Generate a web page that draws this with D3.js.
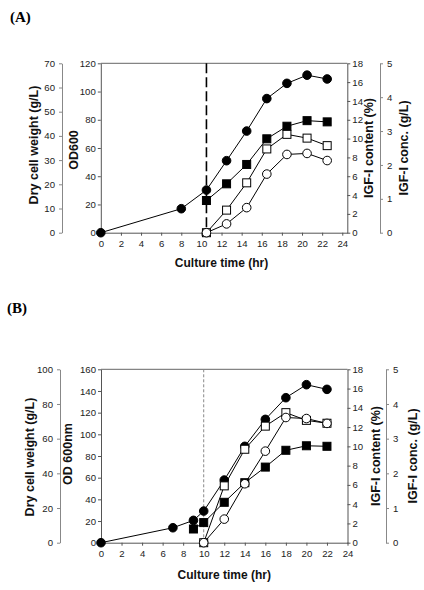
<!DOCTYPE html>
<html><head><meta charset="utf-8">
<script src="https://cdn.jsdelivr.net/npm/d3@7"></script>
<style>
body{margin:0;background:#fff;}
svg{display:block;font-family:"Liberation Sans",Arial,sans-serif;}
.tick text{font-size:9.6px;fill:#222;}
.ttl{font-size:12.5px;font-weight:bold;fill:#111;}
.pl{font-family:"Liberation Serif","Times New Roman",serif;font-size:15px;font-weight:bold;}
</style></head><body>
<script>
// ---------- Data: panel A ----------
const timeA_od = [0, 8, 10.5, 12.5, 14.5, 16.5, 18.5, 20.5, 22.5];
const odA      = [0, 17, 30.2, 51, 72, 95, 105.8, 111.6, 108.9];
const timeA_dcw = [10.5, 12.5, 14.5, 16.5, 18.5, 20.5, 22.5];
const dcwA      = [13.3, 20.2, 28.2, 38.8, 44.0, 46.3, 45.8];
const timeA_igf = [10.5, 12.5, 14.5, 16.5, 18.5, 20.5, 22.5];
const contentA  = [0, 2.4, 5.3, 8.9, 10.45, 10.05, 9.25];
const concA     = [0, 0.26, 0.74, 1.73, 2.31, 2.34, 2.13];
const inductionA = 10.5;

// ---------- Data: panel B ----------
const timeB_od = [0, 7, 9, 10, 12, 14, 16, 18, 20, 22];
const odB      = [0, 13.8, 20.6, 29.2, 57.8, 88.9, 113.8, 133.8, 145.8, 141.5];
const timeB_dcw = [9, 10, 12, 14, 16, 18, 20, 22];
const dcwB      = [7.9, 11.6, 23.3, 34.6, 43.6, 53.3, 55.9, 55.6];
const timeB_igf = [10, 12, 14, 16, 18, 20, 22];
const contentB  = [0, 5.9, 9.7, 12.1, 13.5, 12.7, 12.4];
const concB     = [0, 0.68, 1.70, 2.64, 3.61, 3.58, 3.44];
const inductionB = 10;

// ---------- Tick labels ----------
const xTicks = [0,2,4,6,8,10,12,14,16,18,20,22,24];
const dcwTicksA = [0,10,20,30,40,50,60,70];
const odTicksA = [0,20,40,60,80,100,120];
const dcwTicksB = [0,20,40,60,80,100];
const odTicksB = [0,20,40,60,80,100,120,140,160];
const contentTicks = [0,2,4,6,8,10,12,14,16,18];
const concTicks = [0,1,2,3,4,5];

const svg = d3.select("body").append("svg").attr("width",424).attr("height",590);
const fmt = d3.format("d");

function panel(cfg){
  const g = svg.append("g");
  const x = d3.scaleLinear().domain(cfg.xDomain).range([cfg.left, cfg.right]);
  const yOD = d3.scaleLinear().domain([0, cfg.odMax]).range([cfg.bottom, cfg.top]);
  const yDCW = d3.scaleLinear().domain([0, cfg.dcwMax]).range([cfg.bottom, cfg.top]);
  const yC = d3.scaleLinear().domain([0, 18]).range([cfg.bottom, cfg.top]);
  const yG = d3.scaleLinear().domain([0, 5]).range([cfg.bottom, cfg.top]);

  g.append("line").attr("x1",cfg.left).attr("x2",cfg.right).attr("y1",cfg.top).attr("y2",cfg.top)
    .attr("stroke","#666").attr("stroke-width",1);

  const style = (sel, col) => { sel.select(".domain").attr("stroke",col); sel.selectAll(".tick line").attr("stroke",col); sel.attr("font-family",null).attr("font-size",null); };

  const aL = g.append("g").attr("transform",`translate(${cfg.left},0)`)
    .call(d3.axisLeft(yOD).tickValues(cfg.odTicks).tickFormat(fmt).tickSize(3).tickSizeOuter(0).tickPadding(2));
  style(aL,"#555");
  const aR = g.append("g").attr("transform",`translate(${cfg.right},0)`)
    .call(d3.axisRight(yC).tickValues(contentTicks).tickFormat(fmt).tickSize(3).tickSizeOuter(0).tickPadding(2));
  style(aR,"#555");
  const aB = g.append("g").attr("transform",`translate(0,${cfg.bottom})`)
    .call(d3.axisBottom(x).tickValues(xTicks).tickFormat(fmt).tickSize(3).tickSizeOuter(0).tickPadding(4));
  style(aB,"#555");
  const oL = g.append("g").attr("transform",`translate(${cfg.outerLeft},0)`)
    .call(d3.axisLeft(yDCW).tickValues(cfg.dcwTicks).tickFormat(fmt).tickSize(3).tickSizeOuter(0).tickPadding(4));
  style(oL,"#888");
  const oR = g.append("g").attr("transform",`translate(${cfg.outerRight},0)`)
    .call(d3.axisRight(yG).tickValues(concTicks).tickFormat(fmt).tickSize(3).tickSizeOuter(0).tickPadding(4));
  style(oR,"#888");

  g.append("line").attr("x1",x(cfg.induction)).attr("x2",x(cfg.induction))
    .attr("y1",cfg.top).attr("y2",cfg.bottom)
    .attr("stroke",cfg.dashColor).attr("stroke-width",cfg.dashWidth).attr("stroke-dasharray",cfg.dash);

  const series = [
    {t:cfg.tOD, v:cfg.od, y:yOD, shape:"circle", fill:"#000"},
    {t:cfg.tDCW, v:cfg.dcw, y:yDCW, shape:"square", fill:"#000"},
    {t:cfg.tIGF, v:cfg.content, y:yC, shape:"square", fill:"#fff"},
    {t:cfg.tIGF, v:cfg.conc, y:yG, shape:"circle", fill:"#fff"}
  ];
  const line = d3.line();
  series.forEach(s => {
    const pts = s.t.map((t,i)=>[x(t), s.y(s.v[i])]);
    g.append("path").attr("d",line(pts)).attr("fill","none").attr("stroke","#000").attr("stroke-width",1);
  });
  series.forEach(s => {
    const pts = s.t.map((t,i)=>[x(t), s.y(s.v[i])]);
    if(s.shape==="circle"){
      g.selectAll(null).data(pts).enter().append("circle")
        .attr("cx",d=>d[0]).attr("cy",d=>d[1]).attr("r",4.3)
        .attr("fill",s.fill).attr("stroke","#000").attr("stroke-width",1);
    } else {
      g.selectAll(null).data(pts).enter().append("rect")
        .attr("x",d=>d[0]-4).attr("y",d=>d[1]-4).attr("width",8).attr("height",8)
        .attr("fill",s.fill).attr("stroke","#000").attr("stroke-width",1);
    }
  });

  const midY = (cfg.top+cfg.bottom)/2;
  const vt = (txt, cx, cy) => g.append("text").attr("class","ttl")
    .attr("transform",`translate(${cx},${cy}) rotate(-90)`).attr("text-anchor","middle")
    .attr("dy","0.35em").text(txt);
  vt("Dry cell weight (g/L)", cfg.tDcwX, cfg.tDcwY);
  vt(cfg.odLabel, cfg.tOdX, cfg.tOdY);
  vt("IGF-I content (%)", cfg.tCX, midY);
  vt("IGF-I conc. (g/L)", cfg.tGX, midY);
  g.append("text").attr("class","ttl").style("font-size","12px").attr("x",(cfg.left+x(24))/2).attr("y",cfg.xTitleY)
    .attr("text-anchor","middle").text("Culture time (hr)");
  g.append("text").attr("class","pl").attr("x",cfg.plX).attr("y",cfg.plY).text(cfg.pl);
}

panel({
  xDomain:[0,24.5], left:100.8, right:347.3, top:63.3, bottom:232.7,
  outerLeft:62, outerRight:380,
  odMax:120, dcwMax:70, odTicks:odTicksA, dcwTicks:dcwTicksA,
  induction:inductionA, dashColor:"#000", dashWidth:1.6, dash:"10,4",
  tOD:timeA_od, od:odA, tDCW:timeA_dcw, dcw:dcwA, tIGF:timeA_igf, content:contentA, conc:concA,
  odLabel:"OD600", tDcwX:34, tDcwY:145, tOdX:74, tOdY:150, tCX:369, tGX:404,
  xTitleY:267, pl:"(A)", plX:10, plY:22
});
panel({
  xDomain:[0,24], left:101, right:347.5, top:369.3, bottom:542.7,
  outerLeft:60, outerRight:386,
  odMax:160, dcwMax:100, odTicks:odTicksB, dcwTicks:dcwTicksB,
  induction:inductionB, dashColor:"#888", dashWidth:1, dash:"3,2",
  tOD:timeB_od, od:odB, tDCW:timeB_dcw, dcw:dcwB, tIGF:timeB_igf, content:contentB, conc:concB,
  odLabel:"OD 600nm", tDcwX:30, tDcwY:457, tOdX:68, tOdY:454, tCX:376, tGX:413,
  xTitleY:579, pl:"(B)", plX:7, plY:313
});
</script>
</body></html>
